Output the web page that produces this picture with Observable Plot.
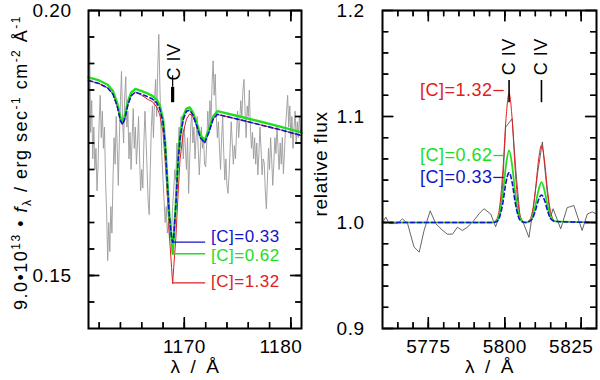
<!DOCTYPE html>
<html><head><meta charset="utf-8">
<script src="https://cdn.jsdelivr.net/npm/d3@7"></script>
<script src="https://cdn.jsdelivr.net/npm/@observablehq/plot@0.6"></script>
<style>
body{margin:0;background:#fff;}
#wrap{display:flex;width:600px;height:380px;}
.panel{position:relative;height:380px;}
.panel svg{position:absolute;left:0;top:0;}
</style></head><body><div id="wrap"></div>
<script>
// ---------- LEFT PANEL DATA (UV, C IV 1169) ----------
const obsWaveL = [1161.0,1161.1,1161.2,1161.3,1161.4,1161.5,1161.6,1161.7,1161.8,1161.9,
1162.0,1162.1,1162.2,1162.3,1162.4,1162.5,1162.6,1162.7,1162.8,1162.9,
1163.0,1163.1,1163.2,1163.3,1163.4,1163.5,1163.6,1163.7,1163.8,1163.9,
1164.0,1164.1,1164.2,1164.3,1164.4,1164.5,1164.6,1164.7,1164.8,1164.9,
1165.0,1165.1,1165.2,1165.3,1165.4,1165.5,1165.6,1165.7,1165.8,1165.9,
1166.0,1166.1,1166.2,1166.3,1166.4,1166.5,1166.6,1166.7,1166.8,1166.9,
1167.0,1167.1,1167.2,1167.3,1167.4,1167.5,1167.6,1167.7,1167.8,1167.9,
1168.0,1168.1,1168.2,1168.3,1168.4,1168.5,1168.6,1168.7,1168.8,1168.9,
1169.0,1169.1,1169.2,1169.3,1169.4,1169.5,1169.6,1169.7,1169.8,1169.9,
1170.0,1170.1,1170.2,1170.3,1170.4,1170.5,1170.6,1170.7,1170.8,1170.9,
1171.0,1171.1,1171.2,1171.3,1171.4,1171.5,1171.6,1171.7,1171.8,1171.9,
1172.0,1172.1,1172.2,1172.3,1172.4,1172.5,1172.6,1172.7,1172.8,1172.9,
1173.0,1173.1,1173.2,1173.3,1173.4,1173.5,1173.6,1173.7,1173.8,1173.9,
1174.0,1174.1,1174.2,1174.3,1174.4,1174.5,1174.6,1174.7,1174.8,1174.9,
1175.0,1175.1,1175.2,1175.3,1175.4,1175.5,1175.6,1175.7,1175.8,1175.9,
1176.0,1176.1,1176.2,1176.3,1176.4,1176.5,1176.6,1176.7,1176.8,1176.9,
1177.0,1177.1,1177.2,1177.3,1177.4,1177.5,1177.6,1177.7,1177.8,1177.9,
1178.0,1178.1,1178.2,1178.3,1178.4,1178.5,1178.6,1178.7,1178.8,1178.9,
1179.0,1179.1,1179.2,1179.3,1179.4,1179.5,1179.6,1179.7,1179.8,1179.9,
1180.0,1180.1,1180.2,1180.3,1180.4,1180.5,1180.6,1180.7,1180.8,1180.9,1181.0];
const obsFluxL = [0.180,0.1945,0.177,0.183,0.172,0.178,0.170,0.174,0.166,0.171,
0.179,0.184,0.176,0.181,0.174,0.178,0.168,0.162,0.1528,0.160,
0.1545,0.163,0.158,0.168,0.176,0.171,0.180,0.174,0.167,0.176,
0.183,0.1885,0.179,0.175,0.184,0.1875,0.178,0.181,0.172,0.177,
0.170,0.176,0.1815,0.174,0.178,0.171,0.175,0.180,0.172,0.166,
0.170,0.1665,0.175,0.181,0.176,0.170,0.164,0.1615,0.170,0.178,
0.182,0.176,0.183,0.187,0.180,0.189,0.1955,0.186,0.178,0.172,
0.168,0.164,0.160,0.163,0.158,0.160,0.157,0.161,0.158,0.163,
0.166,0.170,0.168,0.175,0.172,0.178,0.174,0.180,0.176,0.172,
0.178,0.174,0.170,0.176,0.1655,0.172,0.178,0.181,0.175,0.178,
0.172,0.176,0.180,0.174,0.169,0.173,0.178,0.174,0.176,0.171,
0.1705,0.175,0.181,0.177,0.183,0.179,0.186,0.1905,0.184,0.188,
0.180,0.176,0.179,0.174,0.170,0.176,0.180,0.173,0.168,0.172,
0.167,0.1655,0.169,0.174,0.179,0.175,0.171,0.1745,0.172,0.177,
0.181,0.176,0.179,0.183,0.180,0.185,0.187,0.181,0.176,0.182,
0.180,0.185,0.178,0.174,0.177,0.172,0.176,0.171,0.175,0.169,
0.173,0.178,0.174,0.169,0.172,0.1713,0.166,0.1626,0.168,0.174,
0.170,0.176,0.172,0.167,0.171,0.176,0.173,0.178,0.174,0.170,
0.175,0.171,0.176,0.1692,0.173,0.178,0.181,0.184,0.178,0.182,
0.176,0.180,0.174,0.178,0.181,0.175,0.179,0.176,0.180,0.177,0.178];

const modWaveL = [1161.0,1162.0,1162.8,1163.3,1163.7,1164.0,1164.2,1164.4,1164.7,1165.0,
1165.4,1166.0,1166.6,1167.0,1167.4,1167.7,1168.0,1168.2,1168.4,1168.6,
1168.8,1168.9,1169.0,1169.2,1169.4,1169.6,1169.9,1170.2,1170.5,1170.8,
1171.2,1171.5,1171.9,1172.3,1172.7,1173.1,1175.0,1177.0,1179.0,1181.0];
const greenL = [0.1874,0.1868,0.1860,0.1848,0.1825,0.1798,0.1790,0.1800,0.1828,0.1845,
0.1852,0.1848,0.1843,0.1839,0.1832,0.1820,0.1795,0.1750,0.1680,0.1610,
0.1570,0.1541,0.1570,0.1635,0.1717,0.1765,0.1800,0.1815,0.1817,0.1808,
0.1785,0.1765,0.1755,0.1775,0.1800,0.1810,0.1801,0.1791,0.1781,0.1770];
const blueL = [0.1868,0.1862,0.1854,0.1842,0.1819,0.1792,0.1785,0.1795,0.1822,0.1839,
0.1846,0.1842,0.1837,0.1833,0.1826,0.1814,0.1789,0.1745,0.1675,0.1610,
0.1572,0.1563,0.1572,0.1632,0.1712,0.1760,0.1795,0.1810,0.1812,0.1803,
0.1780,0.1760,0.1750,0.1770,0.1795,0.1804,0.1795,0.1785,0.1775,0.1764];
const redL = [0.1868,0.1862,0.1854,0.1842,0.1819,0.1792,0.1785,0.1795,0.1822,0.1839,
0.1846,0.1840,0.1832,0.1828,0.1818,0.1803,0.1770,0.1715,0.1650,0.1575,
0.1515,0.1485,0.1515,0.1570,0.1650,0.1720,0.1770,0.1795,0.1805,0.1800,
0.1780,0.1760,0.1750,0.1770,0.1795,0.1804,0.1795,0.1785,0.1775,0.1764];

const xMinorL = [1162,1164,1166,1168,1170,1172,1174,1176,1178,1180];
const xMajorL = [1170,1180];
const yMinorL = [0.145,0.150,0.155,0.160,0.165,0.170,0.175,0.180,0.185,0.190,0.195];
const yMajorL = [0.15,0.20];

const lineWaveL = [1168.9];
const lineMarkL = [0.1826,0.1855,0.1877];   // thick from..to, thin to
const lineTextYL = [0.1868];

const abundLabels = ["[C]=0.33","[C]=0.62","[C]=1.32"];
const labelYL = [0.1563,0.1541,0.1486];      // connector lines (model minima)
const labelTextYL = [0.1574,0.1538,0.1489];  // text centres
const labelLineXL = [1168.9,1172.0];
const labelTextXL = [1172.5];

// ---------- RIGHT PANEL DATA (optical, C IV 5801/5812) ----------
const obsWaveR = [5760.0,5761.1,5762.2,5764.9,5766.5,5768.2,5770.3,5772.0,5773.6,5775.6,
5777.4,5779.5,5781.2,5782.9,5784.5,5786.1,5787.8,5789.9,5791.5,5793.2,
5795.4,5797.0,5798.1,5799.2,5800.3,5802.4,5803.6,5805.0,5806.3,5807.9,
5809.4,5810.8,5812.3,5813.8,5815.0,5815.8,5818.3,5820.4,5822.6,5825.3,
5827.0,5828.6,5830.0];
const obsFluxR = [1.000,1.005,0.999,0.999,1.0035,0.999,0.977,0.972,0.9925,1.011,
0.999,0.993,0.989,0.989,0.9956,0.9925,0.9956,1.002,1.008,1.013,
1.008,0.996,1.005,1.030,1.090,1.098,1.050,1.005,0.998,0.986,
1.015,1.048,1.076,1.030,1.005,1.013,0.994,1.014,1.016,0.9925,
1.008,1.010,1.008];

const modWaveR = [5760,5796,5797.4,5798.4,5799.4,5800.4,5801.4,5802.4,5803.4,5804.4,
5805.4,5806.7,5808,5809,5810,5811,5812,5813,5814,5815,5816.5,5830];
const redR = [1.000,1.000,1.0035,1.0165,1.050,1.098,1.122,1.098,1.050,1.0165,
1.0035,1.000,1.002,1.010,1.030,1.058,1.073,1.058,1.030,1.010,1.001,1.000];
const greenR = [1.000,1.000,1.002,1.009,1.028,1.054,1.068,1.054,1.028,1.009,
1.002,1.000,1.001,1.005,1.016,1.030,1.038,1.030,1.016,1.005,1.001,1.000];
const blueR = [1.000,1.000,1.001,1.006,1.019,1.038,1.047,1.038,1.019,1.006,
1.001,1.000,1.001,1.0035,1.011,1.021,1.026,1.021,1.011,1.0035,1.001,1.000];

const xMinorR = [5765,5770,5775,5780,5785,5790,5795,5800,5805,5810,5815,5820,5825];
const xMajorR = [5775,5800,5825];
const yMinorR = [0.92,0.94,0.96,0.98,1.02,1.04,1.06,1.08,1.12,1.14,1.16,1.18];
const yMajorR = [0.9,1.0,1.1,1.2];

const lineWaveR = [5801.4,5812.0];
const lineMarkR = [1.113,1.134];
const lineTextYR = [1.139];

const labelYR = [1.0425,1.0632,1.1245];
const labelLineXR = [5796.4,5799.8];
const labelTextXR = [5796.0];

// ---------- STYLE ----------
const RED = "#e02020", GREEN = "#22dd22", BLUE = "#1515c8";
const colorsAb = [BLUE, GREEN, RED];
const FONT = '"Liberation Sans", Arial, Helvetica, sans-serif';
const FS = 19;
const H = 380, MT = 10, MB = 52;
const FH = H - MT - MB;
const TICK_MINOR = 6, TICK_MAJOR = 11;
const xLabelText = "λ\u2002/\u2002Å";

// inward frame ticks on all four sides, as Plot links (lengths converted from pixels)
function tickLinks(o) {
  const fw = o.width - o.marginLeft - o.marginRight;
  const ux = (o.xDomain[1] - o.xDomain[0]) / fw, uy = (o.yDomain[1] - o.yDomain[0]) / FH;
  const [x0, x1] = o.xDomain, [y0, y1] = o.yDomain;
  const rows = [];
  for (const [arr, len] of [[o.xMinor, TICK_MINOR], [o.xMajor, TICK_MAJOR]]) for (const v of arr) {
    rows.push({a: v, b: y0, c: v, d: y0 + len * uy});
    rows.push({a: v, b: y1, c: v, d: y1 - len * uy});
  }
  for (const [arr, len] of [[o.yMinor, TICK_MINOR], [o.yMajor, TICK_MAJOR]]) for (const v of arr) {
    rows.push({a: x0, b: v, c: x0 + len * ux, d: v});
    rows.push({a: x1, b: v, c: x1 - len * ux, d: v});
  }
  return Plot.link(rows, {x1: "a", y1: "b", x2: "c", y2: "d", stroke: "black", strokeWidth: 1.4});
}

// separate transparent Plot layer: frame + rule ticks
function tickLayer(o) {
  const fw = o.width - o.marginLeft - o.marginRight;
  const sw = 1.4, marks = [];
  for (const [arr, len] of [[o.xMinor, TICK_MINOR], [o.xMajor, TICK_MAJOR]]) {
    marks.push(Plot.ruleX(arr, {x: d => d, insetTop: FH - len, stroke: "black", strokeWidth: sw}));
    marks.push(Plot.ruleX(arr, {x: d => d, insetBottom: FH - len, stroke: "black", strokeWidth: sw}));
  }
  for (const [arr, len] of [[o.yMinor, TICK_MINOR], [o.yMajor, TICK_MAJOR]]) {
    marks.push(Plot.ruleY(arr, {y: d => d, insetRight: fw - len, stroke: "black", strokeWidth: sw}));
    marks.push(Plot.ruleY(arr, {y: d => d, insetLeft: fw - len, stroke: "black", strokeWidth: sw}));
  }
  marks.push(Plot.frame({stroke: "black", strokeWidth: 2}));
  return Plot.plot({
    width: o.width, height: H, marginLeft: o.marginLeft, marginRight: o.marginRight, marginTop: MT, marginBottom: MB,
    x: {domain: o.xDomain, axis: null}, y: {domain: o.yDomain, axis: null},
    style: {background: "transparent", overflow: "visible"},
    marks
  });
}

function panel(width, svgs) {
  const div = document.createElement("div");
  div.className = "panel";
  div.style.width = width + "px";
  div.append(...svgs);
  return div;
}

// ---------- LEFT PLOT ----------
const obsL = obsWaveL.map((w, i) => ({w, f: obsFluxL[i]}));
const modL = modWaveL.map((w, i) => ({w, g: greenL[i], b: blueL[i], r: redL[i]}));
const cfgL = {width: 302, marginLeft: 88, marginRight: 1, xDomain: [1161, 1181], yDomain: [0.14, 0.20],
  xMinor: xMinorL, xMajor: xMajorL, yMinor: yMinorL, yMajor: yMajorL};

const labelMarksL = [];
abundLabels.forEach((t, i) => {
  labelMarksL.push(Plot.ruleY([labelYL[i]], {y: d => d, x1: labelLineXL[0], x2: labelLineXL[1], stroke: colorsAb[i], strokeWidth: 1.3}));
  labelMarksL.push(Plot.text([t], {x: labelTextXL[0], y: labelTextYL[i], text: d => d, textAnchor: "start", fill: colorsAb[i], fontSize: 17}));
});

const svgL = Plot.plot({
  width: cfgL.width, height: H, marginLeft: cfgL.marginLeft, marginRight: cfgL.marginRight, marginTop: MT, marginBottom: MB,
  x: {domain: cfgL.xDomain, label: null},
  y: {domain: cfgL.yDomain, label: null},
  style: {fontFamily: FONT, fontSize: FS + "px", background: "transparent", color: "black", overflow: "visible", letterSpacing: "0.5px"},
  marks: [
    Plot.line(obsL, {x: "w", y: "f", stroke: "#9a9a9a", strokeWidth: 0.9}),
    Plot.line(modL, {x: "w", y: "r", stroke: RED, strokeWidth: 1}),
    Plot.line(modL, {x: "w", y: "g", stroke: GREEN, strokeWidth: 2.4}),
    Plot.line(modL, {x: "w", y: "b", stroke: BLUE, strokeWidth: 1.6, strokeDasharray: "4,3"}),
    ...labelMarksL,
    Plot.ruleX(lineWaveL, {x: d => d, y1: lineMarkL[1], y2: lineMarkL[2], strokeWidth: 1.2}),
    Plot.ruleX(lineWaveL, {x: d => d, y1: lineMarkL[0], y2: lineMarkL[1], strokeWidth: 3.2}),
    Plot.text(["C IV"], {x: lineWaveL[0], y: lineTextYL[0], text: d => d, rotate: -90, textAnchor: "start", lineAnchor: "middle", dx: 2, fontSize: 18}),
    tickLinks(cfgL),
    Plot.axisX({ticks: xMajorL.slice(0, 1), tickSize: 0, tickPadding: 11, tickFormat: "d", label: null, fontSize: FS}),
    Plot.axisX({ticks: xMajorL.slice(1), tickSize: 0, tickPadding: 11, tickFormat: "d", label: null, fontSize: FS, dx: -10}),
    Plot.axisY({ticks: yMajorL, tickSize: 0, tickPadding: 17, tickFormat: ".2f", label: null, fontSize: FS}),
    Plot.text([xLabelText], {frameAnchor: "bottom", text: d => d, dy: 44, fontSize: FS})
  ]
});

// rotated y label with super/subscripts
(function () {
  const t = d3.select(svgL).append("text")
    .attr("transform", "translate(27,163) rotate(-90)")
    .attr("text-anchor", "middle")
    .attr("font-family", FONT).attr("font-size", 18).attr("fill", "black")
    .attr("textLength", 294).attr("lengthAdjust", "spacing");
  t.append("tspan").text("9.0\u202210");
  t.append("tspan").attr("dy", -7).attr("font-size", 12).text("13");
  t.append("tspan").attr("dy", 7).text(" \u2022 ");
  t.append("tspan").attr("font-style", "italic").text("f");
  t.append("tspan").attr("dy", 4).attr("font-size", 12).text("λ");
  t.append("tspan").attr("dy", -4).text(" / erg sec");
  t.append("tspan").attr("dy", -7).attr("font-size", 12).text("-1");
  t.append("tspan").attr("dy", 7).text(" cm");
  t.append("tspan").attr("dy", -7).attr("font-size", 12).text("-2");
  t.append("tspan").attr("dy", 7).text(" Å");
  t.append("tspan").attr("dy", -7).attr("font-size", 12).text("-1");
})();

// ---------- RIGHT PLOT ----------
const obsR = obsWaveR.map((w, i) => ({w, f: obsFluxR[i]}));
const modR = modWaveR.map((w, i) => ({w, g: greenR[i], b: blueR[i], r: redR[i]}));
const cfgR = {width: 298, marginLeft: 80, marginRight: 4, xDomain: [5760, 5830], yDomain: [0.9, 1.2],
  xMinor: xMinorR, xMajor: xMajorR, yMinor: yMinorR, yMajor: yMajorR};

const labelMarksR = [];
abundLabels.forEach((t, i) => {
  labelMarksR.push(Plot.ruleY([labelYR[i]], {y: d => d, x1: labelLineXR[0], x2: labelLineXR[1], stroke: colorsAb[i], strokeWidth: 1.3}));
  labelMarksR.push(Plot.text([t], {x: labelTextXR[0], y: labelYR[i], text: d => d, textAnchor: "end", fill: colorsAb[i], fontSize: 18}));
});

const svgR = Plot.plot({
  width: cfgR.width, height: H, marginLeft: cfgR.marginLeft, marginRight: cfgR.marginRight, marginTop: MT, marginBottom: MB,
  x: {domain: cfgR.xDomain, label: null},
  y: {domain: cfgR.yDomain, label: null},
  style: {fontFamily: FONT, fontSize: FS + "px", background: "transparent", color: "black", overflow: "visible", letterSpacing: "0.5px"},
  marks: [
    Plot.line(obsR, {x: "w", y: "f", stroke: "#555", strokeWidth: 0.9}),
    Plot.line(modR, {x: "w", y: "r", stroke: RED, strokeWidth: 1, curve: "monotone-x"}),
    Plot.line(modR, {x: "w", y: "g", stroke: GREEN, strokeWidth: 1.8, curve: "monotone-x"}),
    Plot.line(modR, {x: "w", y: "b", stroke: BLUE, strokeWidth: 1.6, strokeDasharray: "4,3", curve: "monotone-x"}),
    ...labelMarksR,
    Plot.ruleX(lineWaveR, {x: d => d, y1: lineMarkR[0], y2: lineMarkR[1], strokeWidth: 1.6}),
    Plot.text(lineWaveR, {x: d => d, y: lineTextYR[0], text: () => "C IV", rotate: -90, textAnchor: "start", lineAnchor: "middle", fontSize: 18}),
    tickLinks(cfgR),
    Plot.axisX({ticks: xMajorR.slice(0, 2), tickSize: 0, tickPadding: 11, tickFormat: "d", label: null, fontSize: FS}),
    Plot.axisX({ticks: xMajorR.slice(2), tickSize: 0, tickPadding: 11, tickFormat: "d", label: null, fontSize: FS, dx: -10}),
    Plot.axisY({ticks: yMajorR, tickSize: 0, tickPadding: 18, tickFormat: ".1f", label: null, fontSize: FS}),
    Plot.text([xLabelText], {frameAnchor: "bottom", text: d => d, dy: 44, fontSize: FS})
  ]
});
d3.select(svgR).append("text")
  .attr("transform", "translate(25,164) rotate(-90)")
  .attr("text-anchor", "middle")
  .attr("font-family", FONT).attr("font-size", 19).attr("fill", "black")
  .attr("textLength", 105).attr("lengthAdjust", "spacing")
  .text("relative flux");

document.getElementById("wrap").append(
  panel(cfgL.width, [svgL, tickLayer(cfgL)]),
  panel(cfgR.width, [svgR, tickLayer(cfgR)])
);
</script></body></html>
